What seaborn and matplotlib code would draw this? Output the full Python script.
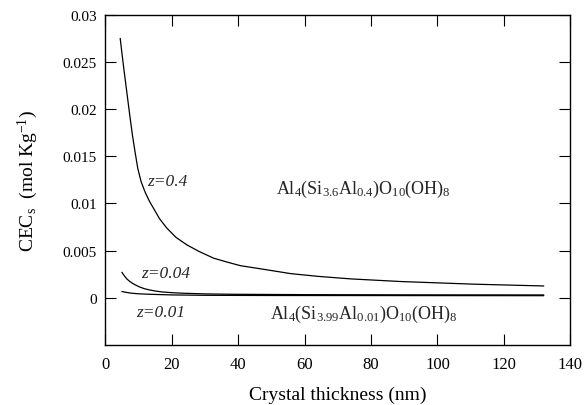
import numpy as np
import pandas as pd
import matplotlib
matplotlib.use("Agg")
import matplotlib.pyplot as plt
import seaborn as sns

sns.set_theme(style="ticks")
plt.rcParams['font.family'] = ['Liberation Serif', 'DejaVu Serif']
plt.rcParams['mathtext.fontset'] = 'custom'
plt.rcParams['mathtext.rm'] = 'Liberation Serif'
plt.rcParams['mathtext.it'] = 'Liberation Serif:italic'
plt.rcParams['axes.unicode_minus'] = False

# values
thickness_z04 = [4.5, 5.1, 5.8, 6.6, 7.4, 8.2, 9.0, 9.8, 10.8, 12.0, 13.2, 14.5, 16.3, 18.5,
                 21.3, 24.6, 28.3, 32.6, 36.5, 40.7, 48, 55.8, 64, 73.9, 89, 111, 132]
cec_z04 = [0.0275, 0.0257, 0.0237, 0.0215, 0.0193, 0.0172, 0.0154, 0.0137, 0.0123, 0.0112,
           0.0103, 0.0095, 0.0084, 0.0074, 0.0064, 0.0056, 0.0049, 0.0042, 0.0038, 0.0034,
           0.0030, 0.00256, 0.00227, 0.0020, 0.00172, 0.00144, 0.00125]

thickness_z004 = [5.0, 5.8, 6.5, 7.3, 8.2, 9.3, 10.5, 11.8, 13.3, 15, 17, 20, 23.4, 30, 38,
                  60, 90, 132]
cec_z004 = [0.0027, 0.0023, 0.0020, 0.00175, 0.00153, 0.00132, 0.00112, 0.00096, 0.00083,
            0.00072, 0.00062, 0.00054, 0.00048, 0.00041, 0.00037, 0.00033, 0.00031, 0.0003]

thickness_z001 = [5.0, 6.5, 8, 10, 13.3, 20, 30, 50, 90, 132]
cec_z001 = [0.00066, 0.00056, 0.00048, 0.00042, 0.00037, 0.0003, 0.00026, 0.00024, 0.00023,
            0.00022]

z_labels = ["z=0.4", "z=0.04", "z=0.01"]
formula_top = r"Al$_4$(Si$_{3.6}$Al$_{0.4}$)O$_{10}$(OH)$_8$"
formula_bottom = r"Al$_4$(Si$_{3.99}$Al$_{0.01}$)O$_{10}$(OH)$_8$"
x_ticks = [0, 20, 40, 60, 80, 100, 120, 140]
y_ticks = [0, 0.005, 0.01, 0.015, 0.02, 0.025, 0.03]
y_ticklabels = ["0", "0.005", "0.01", "0.015", "0.02", "0.025", "0.03"]

df = pd.concat([
    pd.DataFrame({"d": thickness_z04, "cec": cec_z04, "z": z_labels[0]}),
    pd.DataFrame({"d": thickness_z004, "cec": cec_z004, "z": z_labels[1]}),
    pd.DataFrame({"d": thickness_z001, "cec": cec_z001, "z": z_labels[2]}),
])

fig = plt.figure(figsize=(5.88, 4.06), dpi=100)
ax = fig.add_axes([0.179, 0.148, 0.791, 0.813])

sns.lineplot(data=df, x="d", y="cec", hue="z", palette=["black"] * 3,
             linewidth=0.9, legend=False, ax=ax)

ax.set_xlim(0, 140)
ax.set_ylim(-0.005, 0.03)
ax.set_xticks(x_ticks)
ax.set_yticks(y_ticks)
ax.set_yticklabels(y_ticklabels)
ax.tick_params(direction="in", length=8, width=0.8, top=True, right=True,
               colors="black", labelcolor="black")
ax.tick_params(axis="x", labelsize=12, pad=8)
ax.tick_params(axis="y", labelsize=11, pad=6)
for s in ax.spines.values():
    s.set_color("black")
    s.set_linewidth(1.0)

ax.set_xlabel("Crystal thickness (nm)", fontsize=14, labelpad=10, color="black")
ax.set_ylabel(r"CEC$_\mathrm{s}$  (mol Kg$^{-1}$)", fontsize=14, labelpad=16, color="black")

# curve labels
ax.text(12.5, 0.0124, z_labels[0], fontsize=12.5, style="italic", va="center")
ax.text(10.8, 0.0026, z_labels[1], fontsize=12.5, style="italic", va="center")
ax.text(9.3, -0.00146, z_labels[2], fontsize=12.5, style="italic", va="center")
ax.text(51.5, 0.0116, formula_top, fontsize=13, va="center")
ax.text(49.5, -0.00164, formula_bottom, fontsize=13, va="center")

fig.savefig("out.png", dpi=100)
plt.close(fig)
